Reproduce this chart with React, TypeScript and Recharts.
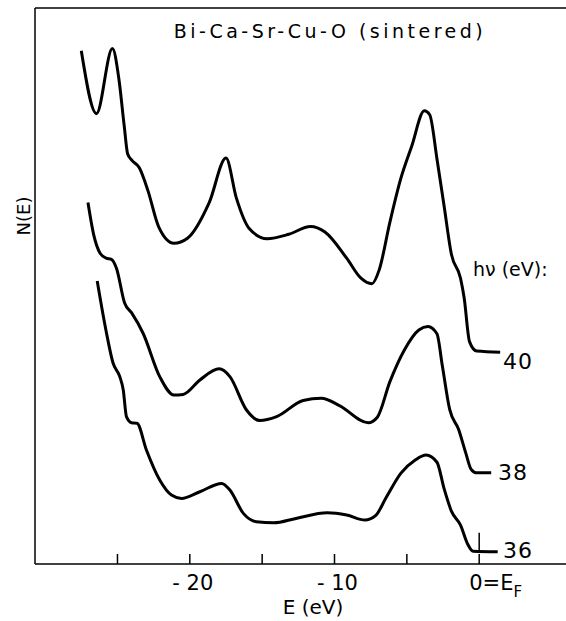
import React from 'react';
import { LineChart, Line, XAxis, YAxis, ReferenceLine } from 'recharts';

// photon energies (eV) and the energy grid / N(E)
const photonEnergies = ['40', '38', '36'];

const e40 = [-27.5, -26.45, -25.35, -24.9, -24.53, -24.3, -24.0, -23.5, -22.9, -22.16, -21.1, -20.16, -18.66, -17.5, -16.78, -15.91, -14.66, -13.16, -11.66, -10.66, -9.16, -8.17, -7.42, -6.91, -6.17, -5.42, -4.67, -3.79, -3.42, -2.92, -2.42, -1.92, -1.29, -1.04, -0.67, -0.17, 1.45];
const n40 = [92.3, 81.0, 92.7, 87.2, 78.7, 73.8, 72.6, 71.3, 67.2, 60.7, 57.7, 58.6, 65.0, 73.0, 65.8, 60.4, 58.5, 59.3, 60.7, 59.7, 55.0, 51.4, 50.4, 52.9, 61.5, 69.3, 75.1, 81.5, 80.8, 72.9, 64.3, 55.7, 51.4, 47.9, 40.0, 38.3, 38.1];

const e38 = [-27.04, -26.65, -26.2, -25.78, -25.42, -25.07, -24.5, -24.03, -23.23, -22.08, -21.1, -20.46, -19.3, -17.97, -17.23, -16.08, -15.16, -14.0, -12.17, -10.91, -9.66, -7.67, -7.04, -6.17, -5.17, -4.17, -3.54, -2.92, -2.55, -2.04, -1.42, -0.92, -0.55, -0.17, 0.83];
const n38 = [65.0, 59.3, 55.9, 55.0, 54.8, 53.2, 46.9, 45.2, 41.5, 33.7, 30.4, 30.5, 33.1, 35.1, 33.7, 27.7, 25.8, 26.5, 29.4, 29.8, 28.5, 25.4, 26.4, 32.8, 38.5, 42.1, 42.7, 41.4, 35.7, 27.8, 24.2, 19.9, 17.0, 16.4, 16.4];

const e36 = [-26.4, -25.8, -25.3, -24.84, -24.6, -24.38, -24.03, -23.65, -23.0, -22.08, -21.27, -20.58, -19.3, -17.8, -17.23, -16.3, -15.4, -14.2, -12.66, -10.5, -9.16, -7.9, -7.16, -6.42, -5.42, -4.42, -3.67, -2.92, -2.42, -1.92, -1.29, -0.8, -0.42, 1.28];
const n36 = [50.9, 42.1, 36.1, 33.7, 31.3, 26.5, 25.4, 25.3, 20.5, 15.1, 12.4, 11.8, 13.0, 14.5, 13.3, 9.1, 7.6, 7.4, 8.2, 9.2, 8.8, 7.9, 8.7, 12.0, 16.3, 18.7, 19.6, 18.3, 13.5, 9.5, 7.0, 3.6, 2.3, 2.2];

const xTicks = [-25, -20, -15, -10, -5, 0];

const toPoints = (e: number[], n: number[]) => e.map((x, i) => ({ e: x, n: n[i] }));

const series = [toPoints(e40, n40), toPoints(e38, n38), toPoints(e36, n36)];

const FONT = '"DejaVu Sans", sans-serif';

const XTick = (props: any) => {
  const { x, y, payload } = props;
  const v = payload.value;
  let label: React.ReactNode = null;
  if (v === 0) {
    label = (
      <text x={x - 10} y={y + 26} fontSize={21} fontFamily={FONT} fill="#000">
        0=E<tspan fontSize={15} dy={7}>F</tspan>
      </text>
    );
  } else if (v === -20 || v === -10) {
    label = (
      <text x={x + 3} y={y + 26} fontSize={21} fontFamily={FONT} fill="#000" textAnchor="middle">
        {`- ${-v}`}
      </text>
    );
  }
  return (
    <g>
      <line x1={x} x2={x} y1={y} y2={y - 10} stroke="#000" strokeWidth={1.5} />
      {label}
    </g>
  );
};

const App = () => {
  return (
    <div style={{ position: 'absolute', left: 0, top: 0, background: '#fff' }}>
      <LineChart width={566} height={621} margin={{ top: 8, right: 0, bottom: 0, left: 0 }}>
        <XAxis
          type="number"
          dataKey="e"
          domain={[-30.7, 6]}
          ticks={xTicks}
          allowDataOverflow
          height={57}
          tickSize={0}
          tickMargin={0}
          tickLine={false}
          axisLine={{ stroke: '#000', strokeWidth: 1.5 }}
          tick={<XTick />}
          interval={0}
        />
        <YAxis
          type="number"
          domain={[0, 100]}
          allowDataOverflow
          width={35}
          tick={false}
          tickLine={false}
          axisLine={{ stroke: '#000', strokeWidth: 1.5 }}
        />
        <ReferenceLine y={100} stroke="#000" strokeWidth={1.5} />
        <ReferenceLine segment={[{ x: 0, y: 2.2 }, { x: 0, y: 5.6 }]} stroke="#000" strokeWidth={1.5} />
        {series.map((d, i) => (
          <Line
            key={photonEnergies[i]}
            data={d}
            dataKey="n"
            type="monotone"
            stroke="#000"
            strokeWidth={3}
            dot={false}
            isAnimationActive={false}
          />
        ))}
        <text x={330} y={38} textAnchor="middle" fontSize={19} fontFamily={FONT} letterSpacing={3.5} fill="#000">
          Bi-Ca-Sr-Cu-O (sintered)
        </text>
        <text x={473} y={276} fontSize={19} fontFamily={FONT} fill="#000">
          hν (eV):
        </text>
        <text x={503} y={369} fontSize={22} fontFamily={FONT} letterSpacing={1} fill="#000">{photonEnergies[0]}</text>
        <text x={498} y={480} fontSize={22} fontFamily={FONT} letterSpacing={1} fill="#000">{photonEnergies[1]}</text>
        <text x={503} y={558} fontSize={22} fontFamily={FONT} letterSpacing={1} fill="#000">{photonEnergies[2]}</text>
        <text x={30} y={216} transform="rotate(-90 30 216)" textAnchor="middle" fontSize={18} fontFamily={FONT} fill="#000">
          N(E)
        </text>
        <text x={313} y={614} textAnchor="middle" fontSize={20} fontFamily={FONT} fill="#000">
          E (eV)
        </text>
      </LineChart>
    </div>
  );
};

export default App;
